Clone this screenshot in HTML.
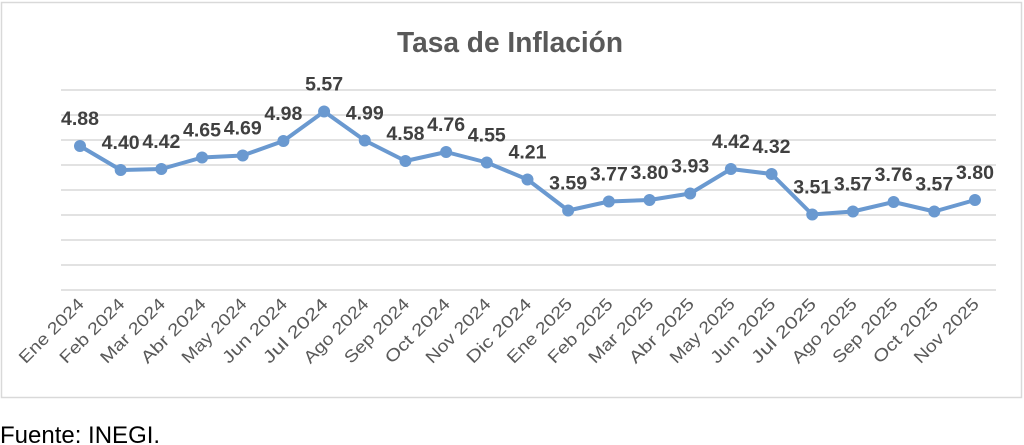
<!DOCTYPE html>
<html><head><meta charset="utf-8"><style>
html,body{margin:0;padding:0;background:#fff;width:1024px;height:445px;overflow:hidden}
svg{display:block}
</style></head><body>
<svg width="1024" height="445" viewBox="0 0 1024 445" font-family="'Liberation Sans', sans-serif">
<rect x="1.5" y="2.5" width="1020" height="395" fill="#fff" stroke="#d9d9d9" stroke-width="1.5"/>
<text x="510" y="52" text-anchor="middle" font-size="29" font-weight="bold" fill="#595959" textLength="226" lengthAdjust="spacingAndGlyphs">Tasa de Inflación</text>
<g stroke="#d9d9d9" stroke-width="1.5">
<line x1="61" x2="996" y1="90" y2="90"/><line x1="61" x2="996" y1="115" y2="115"/><line x1="61" x2="996" y1="140" y2="140"/><line x1="61" x2="996" y1="165" y2="165"/><line x1="61" x2="996" y1="190" y2="190"/><line x1="61" x2="996" y1="215" y2="215"/><line x1="61" x2="996" y1="240" y2="240"/><line x1="61" x2="996" y1="265" y2="265"/><line x1="61" x2="996" y1="290" y2="290"/>
</g>
<g id="g"></g>
<text x="0" y="443" font-size="24" fill="#000">Fuente: INEGI.</text>
</svg>
<script>
var v=[4.88,4.40,4.42,4.65,4.69,4.98,5.57,4.99,4.58,4.76,4.55,4.21,3.59,3.77,3.80,3.93,4.42,4.32,3.51,3.57,3.76,3.57,3.80];
var l=["Ene 2024","Feb 2024","Mar 2024","Abr 2024","May 2024","Jun 2024","Jul 2024","Ago 2024","Sep 2024","Oct 2024","Nov 2024","Dic 2024","Ene 2025","Feb 2025","Mar 2025","Abr 2025","May 2025","Jun 2025","Jul 2025","Ago 2025","Sep 2025","Oct 2025","Nov 2025"];
var s="",p=[];
for(var i=0;i<v.length;i++){var x=80+i*40.68,y=290-(v[i]-2)*50;p.push(x.toFixed(1)+","+y.toFixed(1));
s+='<circle cx="'+x+'" cy="'+y+'" r="6" fill="#6a99d0"/>';
s+='<text x="'+x+'" y="'+(y-21)+'" text-anchor="middle" font-size="19" font-weight="bold" fill="#404040" textLength="38" lengthAdjust="spacingAndGlyphs">'+v[i].toFixed(2)+'</text>';
s+='<text transform="translate('+(x+5)+',305) rotate(-45)" text-anchor="end" font-size="17" fill="#595959" textLength="84" lengthAdjust="spacingAndGlyphs">'+l[i]+'</text>';}
document.getElementById("g").innerHTML='<polyline points="'+p.join(" ")+'" fill="none" stroke="#6a99d0" stroke-width="4" stroke-linejoin="round"/>'+s;
</script>
</body></html>
